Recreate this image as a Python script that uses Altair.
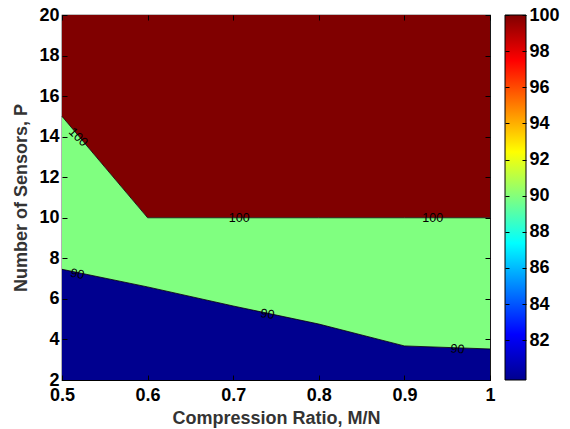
import altair as alt
import pandas as pd

# ---- data ----
ratio = [0.5, 0.6, 0.7, 0.8, 0.9, 1.0]
level90 = [7.46, 6.59, 5.65, 4.76, 3.68, 3.53]
level100 = [15.0, 10.0, 10.0, 10.0, 10.0, 10.0]

label_x = [0.519, 0.707, 0.933, 0.518, 0.740, 0.962]
label_y = [13.98, 10.0, 10.0, 7.23, 5.25, 3.53]
label_text = ["100", "100", "100", "90", "90", "90"]
label_angle = [45, 0, 0, 12, 8, 4]

x_ticks = [0.5, 0.6, 0.7, 0.8, 0.9, 1.0]
y_ticks = [2, 4, 6, 8, 10, 12, 14, 16, 18, 20]
cbar_ticks = [82, 84, 86, 88, 90, 92, 94, 96, 98, 100]
cbar_min, cbar_max = 79.8, 100.0

jet_offsets = [0.0, 0.125, 0.375, 0.625, 0.875, 1.0]
jet_colors = ["#00008F", "#0000FF", "#00FFFF", "#FFFF00", "#FF0000", "#800000"]

FONT = "Liberation Sans"
W, H = 428, 365
CB_LEFT, CB_RIGHT = 443, 464   # colorbar placement, px from plot's left edge

df = pd.DataFrame({"ratio": ratio, "l90": level90, "l100": level100})
lab = pd.DataFrame({"x": label_x, "y": label_y, "t": label_text, "a": label_angle})

xs = alt.Scale(domain=[0.5, 1.0], nice=False, zero=False)
ys = alt.Scale(domain=[2, 20], nice=False, zero=False)

tick_axis = dict(labels=False, domain=False, tickSize=5, tickColor="black",
                 tickWidth=1, title=None, zindex=2, grid=False, minExtent=0)

x_main = alt.X("ratio:Q", scale=xs, axis=alt.Axis(
    values=x_ticks, format=".1f", labelExpr="datum.value == 1 ? '1' : datum.label",
    title="Compression Ratio, M/N", tickSize=0, domain=False, labelPadding=6,
    titlePadding=5, labelFontSize=18, titleFontSize=18, labelFont=FONT,
    titleFont=FONT, labelFontWeight="bold", titleFontWeight="bold",
    labelColor="black", titleColor="#333333", grid=False, labelFlush=False))
y_main = alt.Y("l100:Q", scale=ys, axis=alt.Axis(
    values=y_ticks, title="Number of Sensors, P", tickSize=0, domain=False,
    labelPadding=3, titlePadding=8, labelFontSize=18, titleFontSize=18,
    labelFont=FONT, titleFont=FONT, labelFontWeight="bold",
    titleFontWeight="bold", labelColor="black", titleColor="#333333",
    grid=False, labelFlush=False))

base = alt.Chart(df)

red = base.mark_area(color="#800000", interpolate="linear").encode(
    x=x_main, y=y_main, y2=alt.datum(20))

green = base.mark_area(color="#80FF80", interpolate="linear").encode(
    x=alt.X("ratio:Q", scale=xs, axis=alt.Axis(orient="top", offset=-5, values=x_ticks, **tick_axis)),
    y=alt.Y("l90:Q", scale=ys, axis=alt.Axis(orient="right", offset=-5, values=y_ticks, **tick_axis)),
    y2="l100:Q")

blue = base.mark_area(color="#00008F", interpolate="linear").encode(
    x=alt.X("ratio:Q", scale=xs, axis=alt.Axis(orient="bottom", offset=-5, values=x_ticks, **tick_axis)),
    y=alt.Y("l90:Q", scale=ys, axis=alt.Axis(orient="left", offset=-5, values=y_ticks, **tick_axis)),
    y2=alt.datum(2))

line100 = base.mark_line(color="black", strokeWidth=0.8).encode(
    x=alt.X("ratio:Q", scale=xs, axis=None), y=alt.Y("l100:Q", scale=ys, axis=None))
line90 = base.mark_line(color="black", strokeWidth=0.8).encode(
    x=alt.X("ratio:Q", scale=xs, axis=None), y=alt.Y("l90:Q", scale=ys, axis=None))

labels = alt.Chart(lab).mark_text(font=FONT, fontSize=12.5, color="black",
                                  align="center", baseline="middle").encode(
    x=alt.X("x:Q", scale=xs, axis=None), y=alt.Y("y:Q", scale=ys, axis=None),
    text="t:N", angle=alt.Angle("a:Q", scale=None))

# ---- colorbar (own y scale, drawn to the right of the plot) ----
grad = alt.LinearGradient(
    gradient="linear", x1=0, x2=0, y1=1, y2=0,
    stops=[alt.GradientStop(color=c, offset=o) for c, o in zip(jet_colors, jet_offsets)])

cdf = pd.DataFrame({"lo": [cbar_min], "hi": [cbar_max]})
cs = alt.Scale(domain=[cbar_min, cbar_max], nice=False, zero=False)
cbase = alt.Chart(cdf)

cbar = cbase.mark_rect(fill=grad, stroke="black", strokeWidth=1).encode(
    x=alt.value(CB_LEFT), x2=alt.value(CB_RIGHT),
    y=alt.Y("lo:Q", scale=cs, axis=alt.Axis(
        orient="right", offset=CB_RIGHT - W, values=cbar_ticks, title=None,
        tickSize=0, domain=False, labelPadding=3, labelFontSize=18,
        labelFont=FONT, labelFontWeight="bold", labelColor="black",
        grid=False, labelFlush=False, minExtent=0)),
    y2="hi:Q")
cbar_t1 = cbase.mark_rect(opacity=0).encode(
    x=alt.value(CB_LEFT), x2=alt.value(CB_RIGHT),
    y=alt.Y("lo:Q", scale=cs, axis=alt.Axis(
        orient="right", offset=CB_LEFT - W, values=cbar_ticks,
        **{**tick_axis, "tickSize": 4})),
    y2="hi:Q")
cbar_t2 = cbase.mark_rect(opacity=0).encode(
    x=alt.value(CB_LEFT), x2=alt.value(CB_RIGHT),
    y=alt.Y("lo:Q", scale=cs, axis=alt.Axis(
        orient="right", offset=CB_RIGHT - 4 - W, values=cbar_ticks,
        **{**tick_axis, "tickSize": 4})),
    y2="hi:Q")

chart = alt.layer(red, green, blue, line100, line90, labels, cbar, cbar_t1, cbar_t2
).resolve_scale(y="independent").resolve_axis(
    x="independent", y="independent"
).properties(
    width=W, height=H,
    padding={"left": 12, "top": 6, "right": 2, "bottom": 2},
    background="white"
).configure_view(stroke="black", strokeWidth=1.2)

chart.save("out.html", embed_options={"renderer": "svg", "actions": False})
